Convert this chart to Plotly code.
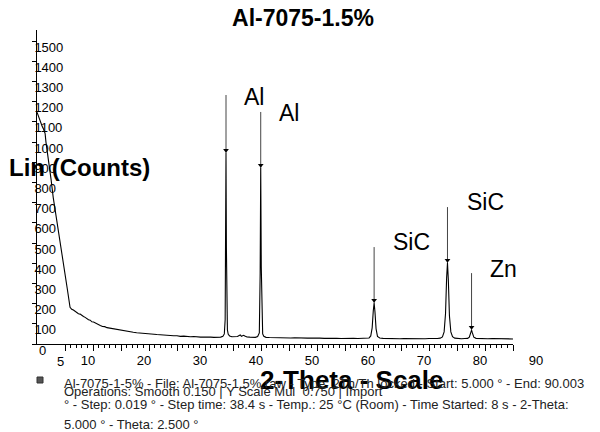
import plotly.graph_objects as go

# ---- data ----
two_theta = [
    5.0, 5.3, 5.6, 5.9, 6.2, 6.45, 6.6, 7.0, 7.5, 7.9, 8.4, 8.9, 9.4, 9.9, 10.4, 10.9,
    11.2, 11.5, 11.8, 12.1, 12.4, 12.7, 13.0, 13.3, 13.6, 13.9, 14.2, 14.5, 14.8, 15.1,
    15.5, 15.9, 16.3, 16.7, 17.1, 17.5, 17.9, 18.4, 18.9, 19.4, 19.9, 20.4, 21.0, 21.6,
    22.2, 22.8, 23.4, 24.0, 24.6, 25.2, 25.8, 26.4, 27.0, 27.6, 28.2, 28.8, 29.4, 30.0,
    30.6, 31.2, 31.8, 32.4, 33.0, 33.6, 34.2, 34.8, 35.4, 36.0, 36.6, 37.2, 37.8, 38.2,
    38.45, 38.6, 38.68, 38.75, 38.82, 38.9, 39.0, 39.15, 39.4, 39.8, 40.3, 40.8, 41.1,
    41.3, 41.5, 41.9, 42.1, 42.5, 43.0, 43.5, 44.0, 44.4, 44.7, 44.85, 44.95, 45.05,
    45.15, 45.3, 45.5, 45.9, 46.5, 47.2, 48.0, 48.8, 49.5, 50.3, 51.0, 51.8, 52.5, 53.3,
    54.0, 54.8, 55.5, 56.3, 57.0, 57.8, 58.5, 59.3, 60.0, 60.8, 61.5, 62.3, 63.0, 63.8,
    64.3, 64.6, 64.85, 65.05, 65.2, 65.35, 65.55, 65.8, 66.2, 66.8, 67.5, 68.3, 69.0,
    69.8, 70.5, 71.3, 72.0, 72.8, 73.5, 74.3, 75.0, 75.8, 76.5, 77.0, 77.4, 77.7, 77.95,
    78.15, 78.3, 78.45, 78.65, 78.9, 79.2, 79.6, 80.2, 80.8, 81.4, 81.9, 82.2, 82.45,
    82.6, 82.75, 83.0, 83.4, 84.0, 84.7, 85.5, 86.3, 87.0, 87.8, 88.5, 89.3, 90.0,
]
counts = [
    1148, 1122, 1098, 1080, 1062, 1042, 1000, 925, 818, 725, 630, 545, 465, 370, 275, 182,
    172, 168, 161, 158, 150, 148, 140, 136, 132, 124, 120, 118, 110, 109,
    102, 98, 92, 87, 86, 81, 79, 76, 72, 70, 66, 64, 62, 59,
    58, 56, 54, 54, 52, 50, 49, 47, 46, 44, 44, 42, 41, 41,
    38, 39, 37, 36, 37, 35, 34, 35, 33, 34, 33, 32, 34, 38,
    50, 120, 420, 946, 480, 140, 70, 48, 40, 36, 35, 37, 42,
    45, 38, 43, 40, 35, 34, 33, 33, 37, 55, 350, 871, 380,
    120, 50, 38, 33, 32, 31, 30, 31, 29, 30, 31, 29, 28, 29,
    30, 28, 29, 28, 29, 27, 28, 27, 28, 27, 28, 27, 27, 28,
    30, 40, 80, 165, 203, 160, 75, 38, 30, 28, 27, 28, 27,
    26, 27, 26, 27, 26, 27, 26, 27, 26, 27, 29, 35, 60, 150,
    330, 401, 320, 140, 60, 36, 29, 27, 26, 27, 28, 34, 55,
    69, 55, 34, 28, 27, 26, 26, 27, 26, 25, 26, 25, 25,
]

peak_theta = [38.75, 44.95, 65.2, 78.3, 82.6]
peak_counts = [946, 871, 203, 401, 69]
arrow_top_counts = [1233, 1149, 480, 678, 351]
peak_labels = ["Al", "Al", "SiC", "SiC", "Zn"]

x_tick_vals = [5, 10, 15, 20, 25, 30, 35, 40, 45, 50, 55, 60, 65, 70, 75, 80, 85, 90]
x_tick_text = ["5", "10", "", "20", "", "30", "", "40", "", "50", "", "60", "", "70", "", "80", "", "90"]
y_tick_vals = list(range(0, 1501, 100))

title_text = "Al-7075-1.5%"
y_title = "Lin (Counts)"
x_title = "2-Theta - Scale"
footer_lines = [
    "Al-7075-1-5% - File: Al-7075-1.5%.raw - Type: 2Th/Th locked - Start: 5.000 ° - End: 90.003",
    "Operations: Smooth 0.150 | Y Scale Mul  0.750 | Import",
    "° - Step: 0.019 ° - Step time: 38.4 s - Temp.: 25 °C (Room) - Time Started: 8 s - 2-Theta:",
    "5.000 ° - Theta: 2.500 °",
]

FONT = "Liberation Sans, Arial, sans-serif"
W, H = 600, 432
L, R, T, B = 37, 87, 30, 88
PW, PH = W - L - R, H - T - B
X_LABEL_SHIFT = 23
Y_LABEL_SHIFT = 6


def px(x):
    return (x - L) / PW


def py(y):
    return (H - B - y) / PH


fig = go.Figure()

fig.add_trace(go.Scatter(
    x=two_theta, y=counts, mode="lines",
    line=dict(color="black", width=1.1), hoverinfo="skip", showlegend=False,
))

# arrow stems
ax_x, ax_y = [], []
for t, c, top in zip(peak_theta, peak_counts, arrow_top_counts):
    ax_x += [t, t, None]
    ax_y += [c, top, None]
fig.add_trace(go.Scatter(
    x=ax_x, y=ax_y, mode="lines", line=dict(color="#444", width=1),
    hoverinfo="skip", showlegend=False,
))
fig.add_trace(go.Scatter(
    x=peak_theta, y=[c + 14 for c in peak_counts], mode="markers",
    marker=dict(symbol="triangle-down", size=5, color="black"),
    hoverinfo="skip", showlegend=False,
))

label_pos = [(254, 97), (289, 113), (411, 242), (485, 202), (503, 269)]
annotations = []
for lab, (lx, ly) in zip(peak_labels, label_pos):
    annotations.append(dict(
        text=lab, xref="paper", yref="paper", x=px(lx), y=py(ly),
        xanchor="center", yanchor="middle", showarrow=False,
        font=dict(family=FONT, size=23, color="black"),
    ))

# edge tick labels that plotly hides at the axis corner
annotations.append(dict(
    text=str(y_tick_vals[0]), xref="x", yref="y", x=x_tick_vals[0], y=y_tick_vals[0],
    xanchor="left", yanchor="middle", xshift=0, yshift=-Y_LABEL_SHIFT, showarrow=False,
    font=dict(family=FONT, size=13, color="black"),
))
annotations.append(dict(
    text=x_tick_text[0], xref="x", yref="paper", x=x_tick_vals[0], y=0,
    xanchor="center", yanchor="middle", xshift=X_LABEL_SHIFT, yshift=-17, showarrow=False,
    font=dict(family=FONT, size=13, color="black"),
))

annotations.append(dict(
    text="<b>" + y_title + "</b>", xref="paper", yref="paper", x=px(79), y=py(167),
    xanchor="center", yanchor="middle", showarrow=False,
    font=dict(family=FONT, size=24, color="black"),
))
annotations.append(dict(
    text="<b>" + x_title + "</b>", xref="paper", yref="paper", x=px(352), y=py(380),
    xanchor="center", yanchor="middle", showarrow=False,
    font=dict(family=FONT, size=26, color="black"),
))
for line, ly in zip(footer_lines, [383, 391, 404, 424]):
    annotations.append(dict(
        text=line, xref="paper", yref="paper", x=px(62), y=py(ly),
        xanchor="left", yanchor="middle", showarrow=False,
        font=dict(family=FONT, size=13, color="#222"),
    ))

fig.add_shape(type="rect", xref="paper", yref="paper",
              x0=px(37), x1=px(43), y0=py(383), y1=py(377),
              line=dict(color="#333", width=1), fillcolor="#555")

fig.update_layout(
    width=W, height=H,
    margin=dict(l=L, r=R, t=T, b=B, autoexpand=False),
    paper_bgcolor="white", plot_bgcolor="white",
    title=dict(text="<b>" + title_text + "</b>", x=303 / W, xref="container",
               y=1 - 18 / H, yref="container", xanchor="center", yanchor="middle",
               font=dict(family=FONT, size=23, color="black")),
    annotations=annotations,
    xaxis=dict(
        range=[5, 90], showgrid=False, zeroline=False, automargin=False,
        showline=True, linecolor="black", linewidth=1,
        tickmode="array", tickvals=x_tick_vals, ticktext=x_tick_text,
        ticks="outside", ticklen=6, tickcolor="black", tickwidth=1,
        minor=dict(dtick=1, ticks="outside", ticklen=3, tickcolor="black", showgrid=False),
        tickfont=dict(family=FONT, size=13, color="black"),
        ticklabelshift=X_LABEL_SHIFT, ticklabelstandoff=-2,
    ),
    yaxis=dict(
        range=[0, 1555], showgrid=False, zeroline=False, automargin=False,
        showline=True, linecolor="black", linewidth=1,
        tickmode="array", tickvals=y_tick_vals,
        ticks="outside", ticklen=4, tickcolor="black", tickwidth=1,
        ticklabelposition="inside",
        tickfont=dict(family=FONT, size=13, color="black"),
        ticklabelshift=Y_LABEL_SHIFT, ticklabelstandoff=-3,
    ),
)

fig.write_html("out.html", config={"displayModeBar": False},
               post_script="document.body.style.margin='0';")
